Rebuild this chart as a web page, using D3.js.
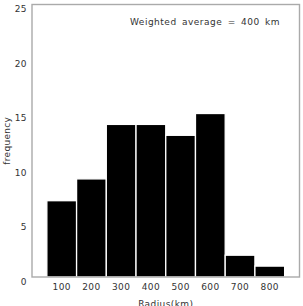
<!DOCTYPE html>
<html>
<head>
<meta charset="utf-8">
<script src="https://cdn.jsdelivr.net/npm/d3@7"></script>
<style>
  body { margin: 0; background: #fff; }
  text { font-family: "DejaVu Sans", sans-serif; fill: #333; }
</style>
</head>
<body>
<div id="chart"></div>
<script>
// histogram of radius (km) — bin centres and counts
const binCentres = [100, 200, 300, 400, 500, 600, 700, 800];
const counts = [7, 9, 14, 14, 13, 15, 2, 1];
const yTicks = [0, 5, 10, 15, 20, 25];
const xTicks = [100, 200, 300, 400, 500, 600, 700, 800];
const binWidth = 100;

const W = 303, H = 306;
const margin = {top: 4.5, right: 3.5, bottom: 29, left: 32};

const svg = d3.select("#chart").append("svg")
    .attr("width", W)
    .attr("height", H);

const x = d3.scaleLinear()
    .domain([0, 900])
    .range([margin.left, W - margin.right]);

const y = d3.scaleLinear()
    .domain([0, 25])
    .range([H - margin.bottom, margin.top]);

// bars
svg.append("g")
    .selectAll("rect")
    .data(binCentres)
    .enter()
    .append("rect")
    .attr("x", (d) => x(d - binWidth / 2))
    .attr("width", (d) => x(d + binWidth / 2) - x(d - binWidth / 2))
    .attr("y", (d, i) => y(counts[i]))
    .attr("height", (d, i) => y(0) - y(counts[i]))
    .attr("fill", "#000")
    .attr("stroke", "#fff")
    .attr("stroke-width", 1.3);

// frame
svg.append("rect")
    .attr("x", x(0))
    .attr("y", y(25))
    .attr("width", x(900) - x(0))
    .attr("height", y(0) - y(25))
    .attr("fill", "none")
    .attr("stroke", "#aaa")
    .attr("stroke-width", 1.4);

// y tick labels
svg.append("g")
    .selectAll("text")
    .data(yTicks)
    .enter()
    .append("text")
    .attr("x", 27)
    .attr("y", (d) => y(d) + 7.5)
    .attr("text-anchor", "end")
    .style("font-size", "9px")
    .style("letter-spacing", "0.4px")
    .text((d) => d);

// x tick labels
svg.append("g")
    .selectAll("text")
    .data(xTicks)
    .enter()
    .append("text")
    .attr("x", (d) => x(d))
    .attr("y", y(0) + 12.5)
    .attr("text-anchor", "middle")
    .style("font-size", "9px")
    .style("letter-spacing", "0.4px")
    .text((d) => d);

// axis titles
svg.append("text")
    .attr("x", (x(0) + x(900)) / 2)
    .attr("y", H + 0.5)
    .attr("text-anchor", "middle")
    .style("font-size", "9px")
    .style("letter-spacing", "0.4px")
    .text("Radius(km)");

svg.append("text")
    .attr("transform", `translate(10, ${(y(0) + y(25)) / 2}) rotate(-90)`)
    .attr("text-anchor", "middle")
    .style("font-size", "9px")
    .style("letter-spacing", "0.3px")
    .text("frequency");

// annotation
svg.append("text")
    .attr("x", 130)
    .attr("y", 25)
    .style("font-size", "9px")
    .style("letter-spacing", "0.5px")
    .style("word-spacing", "2px")
    .text("Weighted average = 400 km");
</script>
</body>
</html>
